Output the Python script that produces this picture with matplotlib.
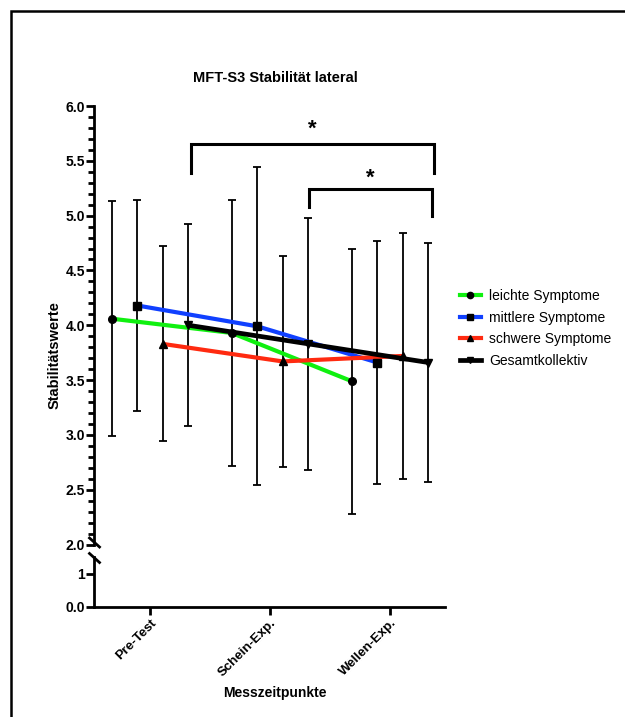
import matplotlib
matplotlib.use("Agg")
import matplotlib.pyplot as plt
from matplotlib.lines import Line2D
from matplotlib.patches import Rectangle
from matplotlib.ticker import MultipleLocator, FixedLocator

# ==========================================
# 1. DATA
# ==========================================
categories = ["Pre-Test", "Schein-Exp.", "Wellen-Exp."]
series_names = ["leichte Symptome", "mittlere Symptome", "schwere Symptome", "Gesamtkollektiv"]

leicht_mean = [4.06, 3.93, 3.49]
leicht_sd = [1.07, 1.21, 1.21]
mittel_mean = [4.18, 3.99, 3.66]
mittel_sd = [0.96, 1.45, 1.11]
schwer_mean = [3.83, 3.67, 3.72]
schwer_sd = [0.89, 0.96, 1.12]
gesamt_mean = [4.00, 3.83, 3.66]
gesamt_sd = [0.92, 1.15, 1.09]

# significance brackets: (x start, x end, bar height, left leg end, right leg end)
brackets = [
    (1.34, 3.37, 5.655, 5.39, 5.39),
    (2.325, 3.35, 5.245, 5.075, 5.0),
]
star_heights = [5.79, 5.345]

# ==========================================
# 2. STYLE
# ==========================================
W, H = 625, 717
plt.rcParams["font.family"] = ["Liberation Sans", "DejaVu Sans"]

colors = ["#10F010", "#1040FF", "#FF2A10", "#000000"]
markers = ["o", "s", "^", "v"]
linewidths = [3.0, 3.0, 3.0, 3.4]
offsets = [-0.32, -0.105, 0.105, 0.32]


def fx(px):
    return px / W


def fy(py):
    return 1 - py / H


fig = plt.figure(figsize=(W / 100, H / 100), dpi=100)

ax_left, ax_right = 94, 445
ax = fig.add_axes([fx(ax_left), fy(544.5), fx(ax_right - ax_left), (544.5 - 106) / H])
ax_low = fig.add_axes([fx(ax_left), fy(607), fx(ax_right - ax_left), (607 - 557) / H])

xmin, xmax = 0.533, 3.458
for a in (ax, ax_low):
    a.set_xlim(xmin, xmax)
    for sp in ["top", "right"]:
        a.spines[sp].set_visible(False)
    a.spines["left"].set_linewidth(2.0)
    a.patch.set_visible(False)

ax.spines["bottom"].set_visible(False)
ax.set_ylim(2.0, 6.0)
ax.yaxis.set_minor_locator(MultipleLocator(0.1))
ax.set_yticks([2.0, 2.5, 3.0, 3.5, 4.0, 4.5, 5.0, 5.5, 6.0])
ax.set_yticklabels([f"{v:.1f}" for v in ax.get_yticks()], fontweight="bold", fontsize=10)
ax.tick_params(axis="y", which="major", length=5.5, width=2.0, pad=1)
ax.tick_params(axis="y", which="minor", length=4, width=2.0)
ax.set_xticks([])

ax_low.set_ylim(0, 1.5)
ax_low.yaxis.set_major_locator(FixedLocator([0, 1]))
ax_low.set_yticklabels(["0.0", "1"], fontweight="bold", fontsize=10)
ax_low.spines["bottom"].set_linewidth(2.0)
ax_low.tick_params(axis="y", which="major", length=5.5, width=2.0, pad=1)
ax_low.set_xticks([1, 2, 3])
ax_low.set_xticklabels(categories, rotation=45, ha="right", va="top",
                       rotation_mode="anchor", fontweight="bold", fontsize=9.5)
ax_low.tick_params(axis="x", length=6, width=2.0, pad=1)

# ==========================================
# 3. SERIES
# ==========================================
all_means = [leicht_mean, mittel_mean, schwer_mean, gesamt_mean]
all_sd = [leicht_sd, mittel_sd, schwer_sd, gesamt_sd]

handles = []
for i, (m, s) in enumerate(zip(all_means, all_sd)):
    xs = [k + 1 + offsets[i] for k in range(len(categories))]
    ax.errorbar(xs, m, yerr=s, fmt="none", ecolor="black", elinewidth=1.3,
                capsize=3, capthick=1.3, zorder=2)
for i, (m, s) in enumerate(zip(all_means, all_sd)):
    xs = [k + 1 + offsets[i] for k in range(len(categories))]
    ax.plot(xs, m, color=colors[i], lw=linewidths[i], zorder=3 + i,
            solid_capstyle="butt")
    ax.plot(xs, m, ls="none", marker=markers[i], color="black", ms=5.5, zorder=8)
    handles.append(Line2D([], [], color=colors[i], lw=linewidths[i],
                          marker=markers[i], markerfacecolor="black",
                          markeredgecolor="black", ms=4.5))

# significance brackets
for (x0, x1, yb, yl, yr), ys in zip(brackets, star_heights):
    ax.plot([x0, x0, x1, x1], [yl, yb, yb, yr], color="black", lw=2.2,
            solid_joinstyle="miter", clip_on=False)
    ax.text((x0 + x1) / 2, ys, "*", ha="center", va="center",
            fontsize=16, fontweight="bold")

# axis break marks
for cy in (542.5, 558):
    fig.add_artist(Line2D([fx(89.5), fx(99.5)], [fy(cy - 4.5), fy(cy + 4.5)],
                          color="black", lw=2.0))

# ==========================================
# 4. TEXT, LEGEND, FRAME
# ==========================================
fig.text(fx(275), fy(78), "MFT-S3 Stabilität lateral", ha="center", va="center",
         fontsize=10.5, fontweight="bold")
fig.text(fx(275), fy(693), "Messzeitpunkte", ha="center", va="center",
         fontsize=10, fontweight="bold")
fig.text(fx(55), fy(355), "Stabilitätswerte", ha="center", va="center",
         rotation=90, fontsize=10.5, fontweight="bold")

fig.legend(handles, series_names, loc="center left",
           bbox_to_anchor=(fx(460), fy(328.5)), frameon=False,
           fontsize=10, handlelength=1.5, handletextpad=0.6,
           labelspacing=0.55, borderpad=0, borderaxespad=0)

fig.add_artist(Rectangle((fx(10.5), -0.1), 2, fy(10.5) + 0.1,
                         transform=fig.transFigure, fill=False,
                         lw=1.8, edgecolor="black"))

fig.savefig("out.png", dpi=100, facecolor="white")
